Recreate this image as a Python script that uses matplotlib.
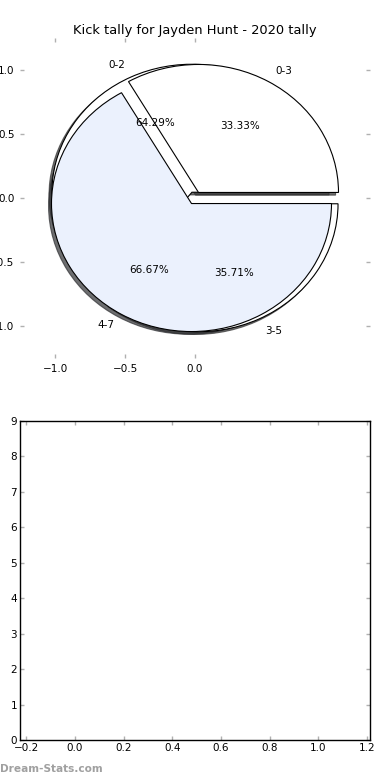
import matplotlib
matplotlib.use("Agg")
import matplotlib.pyplot as plt

# Data
title = "Kick tally for Jayden Hunt - 2020 tally"
labels_a = ["0-2", "3-5"]
values_a = [9, 5]
labels_b = ["0-3", "4-7"]
values_b = [1, 2]
explode_a = [0.05, 0.05]
explode_b = [0.05, 0.05]
colors_a = ["white", "white"]
colors_b = ["white", "#EBF1FD"]
pie_xticks = [-1.0, -0.5, 0.0]
pie_yticks = [-1.0, -0.5, 0.0, 0.5, 1.0]
bar_xticks = [-0.2, 0.0, 0.2, 0.4, 0.6, 0.8, 1.0, 1.2]
bar_yticks = list(range(10))

plt.rcParams['font.family'] = ['DejaVu Sans']
fs = 7.5
tickc = '#b0b0b0'

fig = plt.figure(figsize=(3.9, 7.8), dpi=100)

ax1 = fig.add_axes([20/390, 1-358/780, 350/390, 320/780])
wp = {'edgecolor': 'black', 'linewidth': 0.8}
tp = {'fontsize': fs}
shadow = {'ox': -0.015, 'oy': -0.015, 'shade': 0.8, 'alpha': 0.7}
ax1.pie(values_a, labels=labels_a, explode=explode_a, colors=colors_a,
        autopct='%1.2f%%', shadow=shadow, wedgeprops=wp, textprops=tp)
ax1.pie(values_b, labels=labels_b, explode=explode_b, colors=colors_b,
        autopct='%1.2f%%', shadow=shadow, wedgeprops=wp, textprops=tp)
ax1.set_aspect('auto')
ax1.set_frame_on(False)
ax1.set_xlim(-1.25, 1.25)
ax1.set_ylim(-1.25, 1.25)
ax1.set_xticks(pie_xticks)
ax1.set_yticks(pie_yticks)
ax1.set_xticklabels(["\u22121.0", "\u22120.5", "0.0"])
ax1.set_yticklabels(["\u22121.0", "\u22120.5", "0.0", "0.5", "1.0"])
ax1.tick_params(direction='in', length=3, width=1, color=tickc, labelsize=fs,
                top=True, right=True, pad=4)
ax1.set_title(title, fontsize=9.4, pad=3)

ax2 = fig.add_axes([20/390, 40/780, 350/390, 319/780])
ax2.set_xlim(-0.225, 1.212)
ax2.set_ylim(0, 9)
ax2.set_xticks(bar_xticks)
ax2.set_yticks(bar_yticks)
ax2.set_xticklabels(["\u22120.2"] + ["%.1f" % v for v in bar_xticks[1:]])
ax2.tick_params(direction='in', length=3, width=1, color=tickc, labelsize=fs,
                top=True, right=True, pad=2)
for s in ax2.spines.values():
    s.set_linewidth(1.0)
    s.set_color('black')

fig.text(0.0, 1-769/780, "Dream-Stats.com", fontsize=7.6, fontweight='bold',
         color='#a0a0a0', ha='left', va='center')

fig.savefig("out.png", dpi=100)
